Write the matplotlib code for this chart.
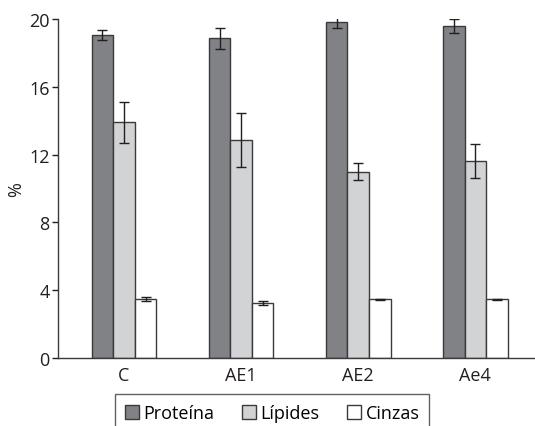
import matplotlib.pyplot as plt
import numpy as np

plt.rcParams['font.family'] = ['Open Sans', 'DejaVu Sans']

grupos = ['C', 'AE1', 'AE2', 'Ae4']
proteina = [19.05, 18.85, 19.85, 19.6]
proteina_err = [0.3, 0.6, 0.4, 0.4]
lipides = [13.9, 12.85, 11.0, 11.6]
lipides_err = [1.2, 1.6, 0.5, 1.0]
cinzas = [3.5, 3.25, 3.48, 3.48]
cinzas_err = [0.12, 0.1, 0.03, 0.03]

fig = plt.figure(figsize=(5.35, 4.27), dpi=100)
ax = fig.add_axes([58/535, 1 - 359/427, (535-58)/535, (359-20)/427])

x = np.arange(len(grupos))
w = 0.184
borda = '#3a3a3c'
err_kw = dict(ecolor='#231f20', elinewidth=1, capsize=3.5, capthick=1)

ax.bar(x - w, proteina, w, yerr=proteina_err, color='#808285', edgecolor=borda,
       linewidth=1, label='Proteína', error_kw=err_kw)
ax.bar(x, lipides, w, yerr=lipides_err, color='#d1d3d4', edgecolor=borda,
       linewidth=1, label='Lípides', error_kw=err_kw)
ax.bar(x + w, cinzas, w, yerr=cinzas_err, color='white', edgecolor=borda,
       linewidth=1, label='Cinzas', error_kw=err_kw)

ax.set_xlim(-0.564, 3.51)
ax.set_ylim(0, 20)
ax.set_yticks([0, 4, 8, 12, 16, 20])
ax.set_xticks(x)
ax.set_xticklabels(grupos)
ax.tick_params(axis='x', length=0, pad=6, labelsize=13, colors='#231f20')
ax.tick_params(axis='y', length=4, width=1, pad=2, labelsize=13, colors='#231f20')
ax.set_ylabel('%', fontsize=13, color='#231f20', labelpad=3)

for s in ['top', 'right']:
    ax.spines[s].set_visible(False)
for s in ['left', 'bottom']:
    ax.spines[s].set_color('#3a3a3c')
    ax.spines[s].set_linewidth(1)

leg = fig.legend(loc='upper center', bbox_to_anchor=(272/535, 1 - 395/427), ncol=3,
                 frameon=True, fancybox=False, edgecolor='#3a3a3c', fontsize=13,
                 handlelength=0.8, handleheight=0.8, handletextpad=0.25,
                 columnspacing=1.5, borderpad=0.55, borderaxespad=0)
leg.get_frame().set_linewidth(1)
leg.set_bbox_to_anchor((272/535, 1 - 395/427 + 0.0), transform=fig.transFigure)

plt.savefig('out.png', dpi=100)
